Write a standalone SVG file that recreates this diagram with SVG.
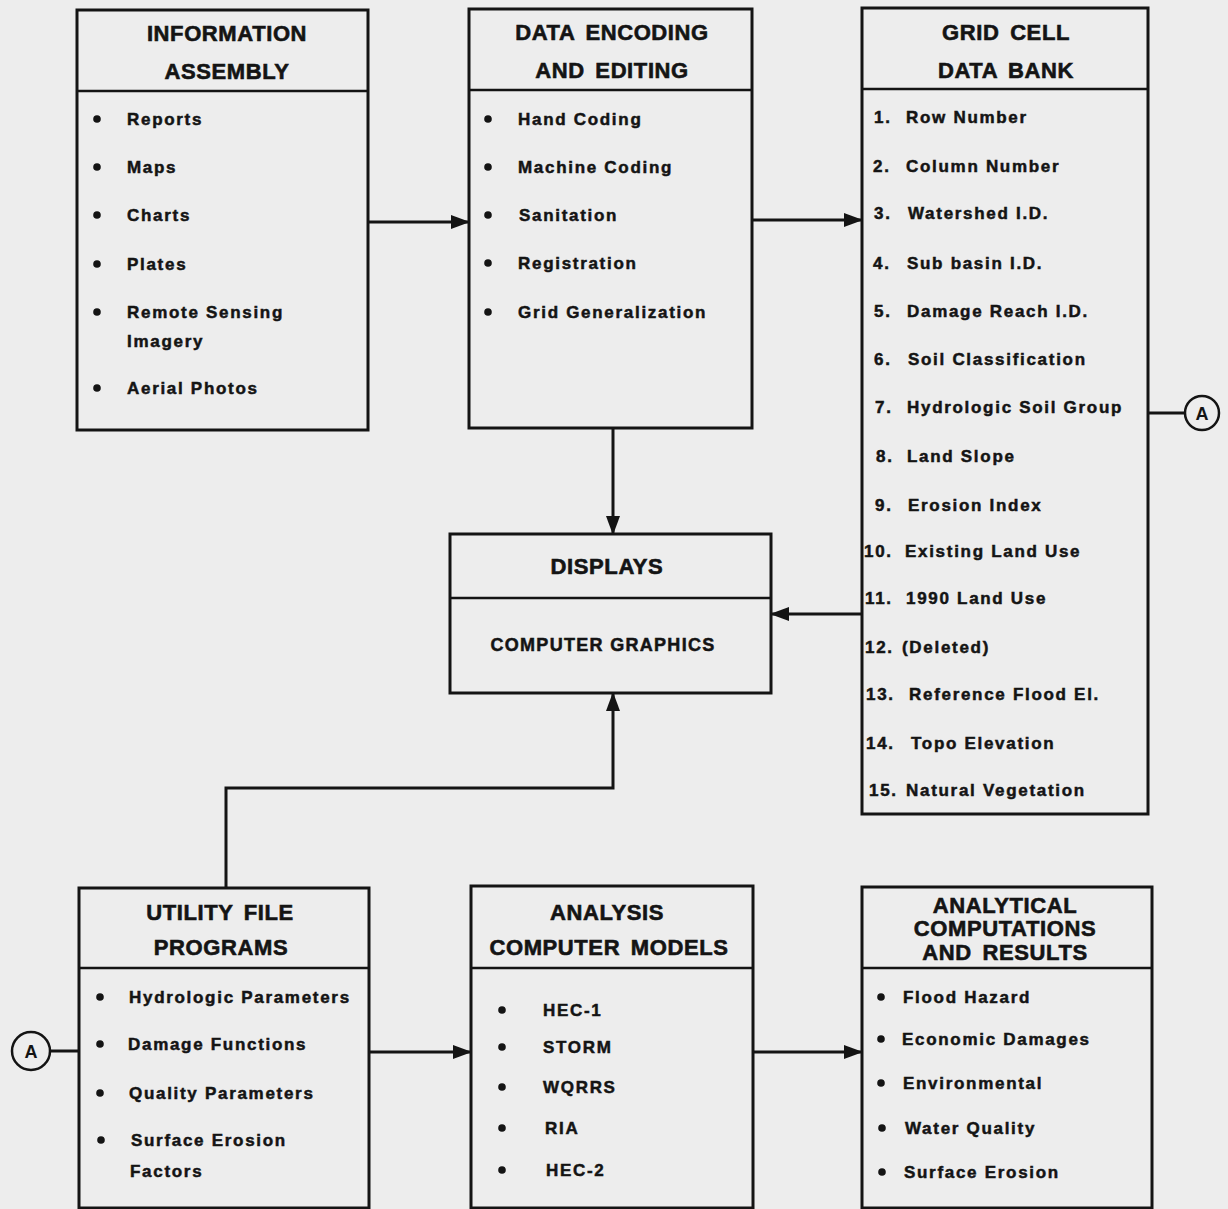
<svg xmlns="http://www.w3.org/2000/svg" width="1228" height="1209" viewBox="0 0 1228 1209">
<defs>
<marker id="arr" markerUnits="userSpaceOnUse" markerWidth="19" markerHeight="14" refX="18" refY="7" orient="auto">
<path d="M0,0 L19,7 L0,14 z" fill="#141414"/>
</marker>
<style>
.box{fill:none;stroke:#141414;stroke-width:3}
.div{stroke:#141414;stroke-width:2.5}
.ttl{font-family:"Liberation Sans",Arial,sans-serif;font-weight:bold;font-size:22px;fill:#141414;stroke:#141414;stroke-width:0.6px;text-anchor:middle;letter-spacing:0.6px;word-spacing:4px}
.it{font-family:"Liberation Sans",Arial,sans-serif;font-weight:bold;font-size:17px;fill:#141414;stroke:#141414;stroke-width:0.5px;letter-spacing:1.7px}
.cg{font-family:"Liberation Sans",Arial,sans-serif;font-weight:bold;font-size:18px;fill:#141414;stroke:#141414;stroke-width:0.5px;text-anchor:middle;letter-spacing:1.3px}
.b{fill:#141414}
.con{fill:none;stroke:#141414;stroke-width:3}
.circ{fill:none;stroke:#141414;stroke-width:2.5}
.ca{font-family:"Liberation Sans",Arial,sans-serif;font-weight:bold;font-size:18px;fill:#141414;text-anchor:middle}
</style>
</defs>
<rect width="1228" height="1209" fill="#ededed"/>

<g id="connectors">
<line class="con" x1="368" y1="222" x2="469" y2="222" marker-end="url(#arr)"/>
<line class="con" x1="752" y1="220" x2="862" y2="220" marker-end="url(#arr)"/>
<line class="con" x1="613" y1="428" x2="613" y2="534" marker-end="url(#arr)"/>
<line class="con" x1="862" y1="614" x2="771" y2="614" marker-end="url(#arr)"/>
<path class="con" d="M226,888 L226,788 L613,788 L613,693" marker-end="url(#arr)"/>
<line class="con" x1="369" y1="1052" x2="471" y2="1052" marker-end="url(#arr)"/>
<line class="con" x1="753" y1="1052" x2="862" y2="1052" marker-end="url(#arr)"/>
<line class="con" x1="1148" y1="413" x2="1185" y2="413"/>
<line class="con" x1="50" y1="1051" x2="79" y2="1051"/>
</g>

<g id="connector-A-right">
<circle class="circ" cx="1202" cy="413" r="17"/>
<text class="ca" x="1202" y="419.5">A</text>
</g>
<g id="connector-A-left">
<circle class="circ" cx="31" cy="1051" r="19"/>
<text class="ca" x="31" y="1057.5">A</text>
</g>

<g id="information-assembly">
<rect class="box" x="77" y="10" width="291" height="420"/>
<line class="div" x1="77" y1="91" x2="368" y2="91"/>
<text class="ttl" x="227" y="41">INFORMATION</text>
<text class="ttl" x="227" y="79">ASSEMBLY</text>
<circle class="b" cx="97" cy="119" r="3.8"/><text class="it" x="127" y="125">Reports</text>
<circle class="b" cx="97" cy="167" r="3.8"/><text class="it" x="127" y="173">Maps</text>
<circle class="b" cx="97" cy="215" r="3.8"/><text class="it" x="127" y="221">Charts</text>
<circle class="b" cx="97" cy="264" r="3.8"/><text class="it" x="127" y="270">Plates</text>
<circle class="b" cx="97" cy="312" r="3.8"/><text class="it" x="127" y="318">Remote Sensing</text>
<text class="it" x="127" y="347">Imagery</text>
<circle class="b" cx="97" cy="388" r="3.8"/><text class="it" x="127" y="394">Aerial Photos</text>
</g>

<g id="data-encoding">
<rect class="box" x="469" y="9" width="283" height="419"/>
<line class="div" x1="469" y1="90" x2="752" y2="90"/>
<text class="ttl" x="612" y="40" word-spacing="10">DATA ENCODING</text>
<text class="ttl" x="612" y="78" word-spacing="10">AND EDITING</text>
<circle class="b" cx="488" cy="119" r="3.8"/><text class="it" x="518" y="125">Hand Coding</text>
<circle class="b" cx="488" cy="167" r="3.8"/><text class="it" x="518" y="173">Machine Coding</text>
<circle class="b" cx="488" cy="215" r="3.8"/><text class="it" x="519" y="221">Sanitation</text>
<circle class="b" cx="488" cy="263" r="3.8"/><text class="it" x="518" y="269">Registration</text>
<circle class="b" cx="488" cy="312" r="3.8"/><text class="it" x="518" y="318">Grid Generalization</text>
</g>

<g id="grid-cell-data-bank">
<rect class="box" x="862" y="8" width="286" height="806"/>
<line class="div" x1="862" y1="89" x2="1148" y2="89"/>
<text class="ttl" x="1006" y="40">GRID CELL</text>
<text class="ttl" x="1006" y="78" word-spacing="8">DATA BANK</text>
<text class="it" x="874" y="123">1.<tspan x="906">Row Number</tspan></text>
<text class="it" x="873" y="172">2.<tspan x="906">Column Number</tspan></text>
<text class="it" x="874" y="219">3.<tspan x="908">Watershed I.D.</tspan></text>
<text class="it" x="873" y="269">4.<tspan x="907">Sub basin I.D.</tspan></text>
<text class="it" x="874" y="317">5.<tspan x="907">Damage Reach I.D.</tspan></text>
<text class="it" x="874" y="365">6.<tspan x="908">Soil Classification</tspan></text>
<text class="it" x="875" y="413">7.<tspan x="907">Hydrologic Soil Group</tspan></text>
<text class="it" x="876" y="462">8.<tspan x="907">Land Slope</tspan></text>
<text class="it" x="875" y="511">9.<tspan x="908">Erosion Index</tspan></text>
<text class="it" x="864" y="557">10.<tspan x="905">Existing Land Use</tspan></text>
<text class="it" x="865" y="604">11.<tspan x="906">1990 Land Use</tspan></text>
<text class="it" x="865" y="653">12.<tspan x="902">(Deleted)</tspan></text>
<text class="it" x="866" y="700">13.<tspan x="909">Reference Flood El.</tspan></text>
<text class="it" x="866" y="749">14.<tspan x="911">Topo Elevation</tspan></text>
<text class="it" x="869" y="796">15.<tspan x="906">Natural Vegetation</tspan></text>
</g>

<g id="displays">
<rect class="box" x="450" y="534" width="321" height="159"/>
<line class="div" x1="450" y1="598" x2="771" y2="598"/>
<text class="ttl" x="607" y="574">DISPLAYS</text>
<text class="cg" x="603" y="651">COMPUTER GRAPHICS</text>
</g>

<g id="utility-file-programs">
<rect class="box" x="79" y="888" width="290" height="320"/>
<line class="div" x1="79" y1="968" x2="369" y2="968"/>
<text class="ttl" x="220" y="920">UTILITY FILE</text>
<text class="ttl" x="221" y="955">PROGRAMS</text>
<circle class="b" cx="100" cy="997" r="3.8"/><text class="it" x="129" y="1003">Hydrologic Parameters</text>
<circle class="b" cx="100" cy="1044" r="3.8"/><text class="it" x="128" y="1050">Damage Functions</text>
<circle class="b" cx="100" cy="1093" r="3.8"/><text class="it" x="129" y="1099">Quality Parameters</text>
<circle class="b" cx="101" cy="1140" r="3.8"/><text class="it" x="131" y="1146">Surface Erosion</text>
<text class="it" x="130" y="1177">Factors</text>
</g>

<g id="analysis-computer-models">
<rect class="box" x="471" y="886" width="282" height="322"/>
<line class="div" x1="471" y1="968" x2="753" y2="968"/>
<text class="ttl" x="607" y="920">ANALYSIS</text>
<text class="ttl" x="609" y="955">COMPUTER MODELS</text>
<circle class="b" cx="502" cy="1010" r="3.8"/><text class="it" x="543" y="1016">HEC-1</text>
<circle class="b" cx="502" cy="1047" r="3.8"/><text class="it" x="543" y="1053">STORM</text>
<circle class="b" cx="502" cy="1087" r="3.8"/><text class="it" x="543" y="1093">WQRRS</text>
<circle class="b" cx="502" cy="1128" r="3.8"/><text class="it" x="545" y="1134">RIA</text>
<circle class="b" cx="502" cy="1170" r="3.8"/><text class="it" x="546" y="1176">HEC-2</text>
</g>

<g id="analytical-computations">
<rect class="box" x="862" y="887" width="290" height="321"/>
<line class="div" x1="862" y1="968" x2="1152" y2="968"/>
<text class="ttl" x="1005" y="913">ANALYTICAL</text>
<text class="ttl" x="1005" y="936">COMPUTATIONS</text>
<text class="ttl" x="1005" y="960" word-spacing="8">AND RESULTS</text>
<circle class="b" cx="881" cy="997" r="3.8"/><text class="it" x="903" y="1003">Flood Hazard</text>
<circle class="b" cx="881" cy="1039" r="3.8"/><text class="it" x="902" y="1045">Economic Damages</text>
<circle class="b" cx="881" cy="1083" r="3.8"/><text class="it" x="903" y="1089">Environmental</text>
<circle class="b" cx="882" cy="1128" r="3.8"/><text class="it" x="905" y="1134">Water Quality</text>
<circle class="b" cx="882" cy="1172" r="3.8"/><text class="it" x="904" y="1178">Surface Erosion</text>
</g>
</svg>
